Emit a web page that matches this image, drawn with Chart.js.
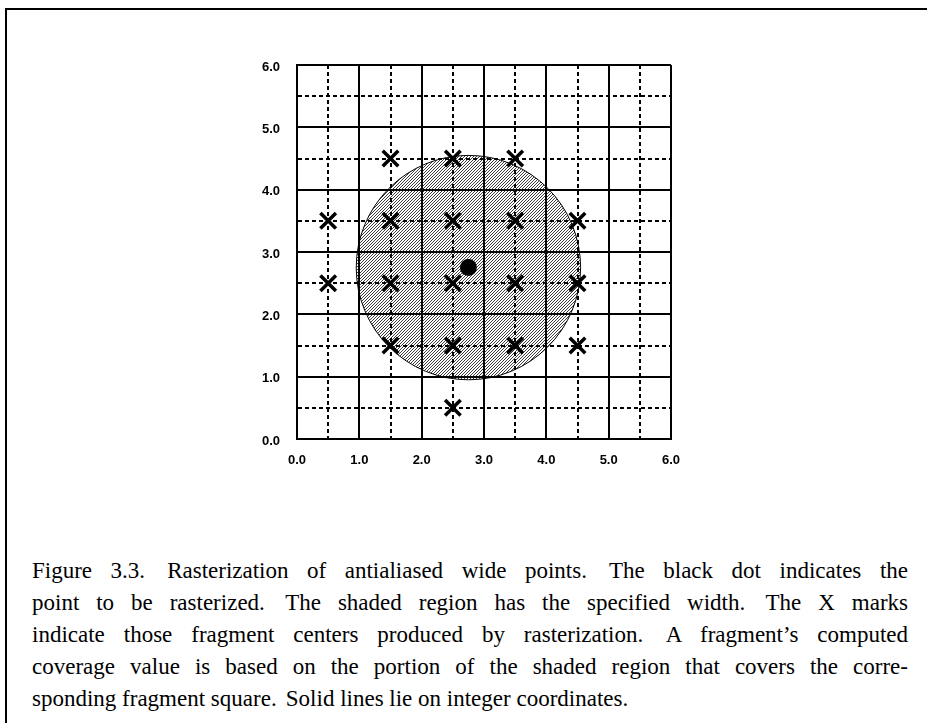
<!DOCTYPE html>
<html>
<head>
<meta charset="utf-8">
<script src="https://cdn.jsdelivr.net/npm/chart.js@4.4.1/dist/chart.umd.min.js"></script>
<style>
  html, body { margin: 0; padding: 0; background: #fff; width: 927px; height: 723px; overflow: hidden; }
  #frame { position: absolute; left: 5px; top: 8px; width: 960px; height: 760px;
           border-top: 2px solid #000; border-left: 2px solid #000; }
  #chartBox { position: absolute; left: 0; top: 0; width: 927px; height: 723px; }
  #caption { position: absolute; left: 32px; top: 555px; width: 876px;
             font-family: "Liberation Serif", "Times New Roman", serif; font-size: 23px;
             line-height: 32px; color: #000; }
  #caption div { text-align: justify; text-align-last: justify; white-space: normal; }
  #caption div.last { text-align: left; text-align-last: left; }
  .ss { margin-left: 0.15em; }
</style>
</head>
<body>
<div id="frame"></div>
<div id="caption">
  <div>Figure 3.3. <span class="ss"></span>Rasterization of antialiased wide points. <span class="ss"></span>The black dot indicates the</div>
  <div>point to be rasterized. <span class="ss"></span>The shaded region has the specified width. <span class="ss"></span>The X marks</div>
  <div>indicate those fragment centers produced by rasterization. <span class="ss"></span>A fragment’s computed</div>
  <div>coverage value is based on the portion of the shaded region that covers the corre-</div>
  <div class="last">sponding fragment square. <span class="ss"></span>Solid lines lie on integer coordinates.</div>
</div>
<div id="chartBox"><canvas id="c" width="927" height="723"></canvas></div>
<script>
// ---- data ----
const tickLabels = ['0.0', '1.0', '2.0', '3.0', '4.0', '5.0', '6.0'];
const axisMin = 0;
const axisMax = 6;
const gridStep = 0.5;
// fragment centers produced by rasterization (X marks)
const fragmentX = [1.5, 2.5, 3.5, 0.5, 1.5, 2.5, 3.5, 4.5, 0.5, 1.5, 2.5, 3.5, 4.5, 1.5, 2.5, 3.5, 4.5, 2.5];
const fragmentY = [4.5, 4.5, 4.5, 3.5, 3.5, 3.5, 3.5, 3.5, 2.5, 2.5, 2.5, 2.5, 2.5, 1.5, 1.5, 1.5, 1.5, 0.5];
// point to be rasterized
const pointX = [2.75];
const pointY = [2.75];
// shaded region (in data units)
const regionX = [2.75];
const regionY = [2.75];
const regionRadius = [1.8];

// ---- hatch pattern ----
function makeHatch() {
  const n = 3;
  const pc = document.createElement('canvas');
  pc.width = n; pc.height = n;
  const g = pc.getContext('2d');
  const img = g.createImageData(n, n);
  for (let i = 0; i < n; i++) {
    const px = i, py = n - 1 - i;
    const k = (py * n + px) * 4;
    img.data[k] = 20; img.data[k + 1] = 20; img.data[k + 2] = 20; img.data[k + 3] = 210;
  }
  g.putImageData(img, 0, 0);
  return g.createPattern(pc, 'repeat');
}
const hatch = makeHatch();

const fragData = fragmentX.map((x, i) => ({ x, y: fragmentY[i] }));
const dotData = pointX.map((x, i) => ({ x, y: pointY[i] }));
const regionData = regionX.map((x, i) => ({ x, y: regionY[i] }));

const labelFont = { family: '"Liberation Sans", Arial, sans-serif', size: 13, weight: 'bold' };

function axisOpts(isX) {
  return {
    type: 'linear',
    min: axisMin,
    max: axisMax,
    afterFit: (s) => { if (isX) s.height = 40; else s.width = 40; },
    afterBuildTicks: (s) => {
      const t = [];
      for (let v = axisMin; v <= axisMax + 1e-9; v += gridStep) t.push({ value: v });
      s.ticks = t;
    },
    ticks: {
      autoSkip: false,
      maxRotation: 0,
      color: '#000',
      font: labelFont,
      padding: isX ? 14 : 17,
      labelOffset: isX ? 0 : 2,
      callback: (v) => Number.isInteger(v) ? tickLabels[v] : ''
    },
    grid: {
      color: '#000',
      lineWidth: 2,
      drawTicks: false
    },
    border: {
      display: true,
      color: '#000',
      width: 2,
      dash: (ctx) => (ctx.tick && !Number.isInteger(ctx.tick.value)) ? [4, 3] : []
    }
  };
}

new Chart(document.getElementById('c'), {
  type: 'scatter',
  data: {
    datasets: [
      {
        label: 'fragments',
        data: fragData,
        pointStyle: 'crossRot',
        pointRadius: 11,
        borderColor: '#000',
        borderWidth: 3.5,
        backgroundColor: '#000',
        order: 0
      },
      {
        label: 'point',
        data: dotData,
        pointStyle: 'circle',
        pointRadius: 8.5,
        borderColor: '#000',
        borderWidth: 0,
        backgroundColor: '#000',
        order: 1
      },
      {
        label: 'region',
        data: regionData,
        pointStyle: 'circle',
        pointRadius: (ctx) => {
          const s = ctx.chart.scales.x;
          return Math.abs(s.getPixelForValue(regionRadius[ctx.dataIndex]) - s.getPixelForValue(0));
        },
        borderColor: '#000',
        borderWidth: 1,
        backgroundColor: hatch,
        order: 2
      }
    ]
  },
  options: {
    responsive: false,
    animation: false,
    events: [],
    layout: { padding: { left: 257, top: 65, right: 256, bottom: 244 } },
    plugins: { legend: { display: false }, tooltip: { enabled: false } },
    scales: { x: axisOpts(true), y: axisOpts(false) }
  }
});
</script>
</body>
</html>
